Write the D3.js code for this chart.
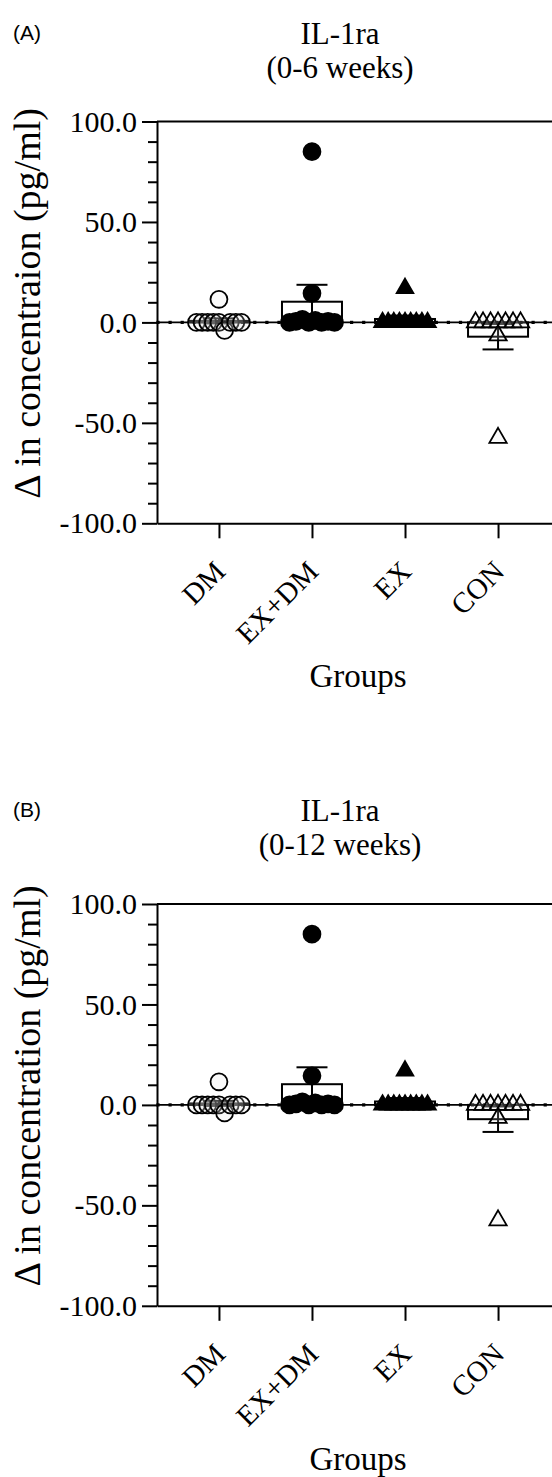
<!DOCTYPE html>
<html>
<head>
<meta charset="utf-8">
<script src="https://cdn.jsdelivr.net/npm/d3@7"></script>
<style>
  body { margin: 0; background: #fff; }
  svg text { font-family: "Liberation Serif", "Times New Roman", serif; fill: #000; }
  svg text.panel-tag { font-family: "Liberation Sans", Arial, sans-serif; }
</style>
</head>
<body>
<div id="graphicContainer"></div>
<script>
// categories and axis ticks
var groups = ["DM", "EX+DM", "EX", "CON"]
var yTicks = [100, 50, 0, -50, -100]
var yMinor = [90, 80, 70, 60, 40, 30, 20, 10, -10, -20, -30, -40, -60, -70, -80, -90]

// change in IL-1ra per animal, 0-6 weeks (pg/ml)
var dm6    = [0, 0, 0, 0, 0, -4, 0, 0, 0, 11.5]
var exdm6  = [0, 0.5, 1.5, 0, 1, 0, 0.5, 0, 14.5, 85]
var ex6    = [0, 0, 0, 0, 0, 0, 0, 0, 0, 17]
var con6   = [0, 0, 0, 0, 0, 0, 0, -6.5, -57.5]

// change in IL-1ra per animal, 0-12 weeks (pg/ml)
var dm12   = [0, 0, 0, 0, 0, -4, 0, 0, 0, 11.5]
var exdm12 = [0, 0.5, 1.5, 0, 1, 0, 0.5, 0, 14.5, 85]
var ex12   = [0, 0, 0, 0, 0, 0, 0, 0, 0, 17]
var con12  = [0, 0, 0, 0, 0, 0, 0, -6.5, -57.5]

var panels = [
    { tag: "(A)", title: ["IL-1ra", "(0-6 weeks)"], ylab: "\u0394 in concentraion (pg/ml)",
      series: [dm6, exdm6, ex6, con6], top: 0, titleTop: 0 },
    { tag: "(B)", title: ["IL-1ra", "(0-12 weeks)"], ylab: "\u0394 in concentration (pg/ml)",
      series: [dm12, exdm12, ex12, con12], top: 782.5, titleTop: 777 }
]

// marker style per group
var markers = [
    { shape: d3.symbolCircle, size: 225, fill: "#e2e2e2", fillOpacity: 0.18 },
    { shape: d3.symbolCircle, size: 225, fill: "#000", fillOpacity: 1 },
    { shape: d3.symbolTriangle, size: 120, fill: "#000", fillOpacity: 1 },
    { shape: d3.symbolTriangle, size: 130, fill: "#e2e2e2", fillOpacity: 0.18 }
]

var width = 552, height = 1477

var svg = d3.select("#graphicContainer").append("svg")
    .attr("width", width)
    .attr("height", height)

var x = d3.scalePoint()
    .domain(groups)
    .range([157, 560])
    .padding(0.666)

// spread points that sit on top of each other, the way the scatter does
function spread(values) {
    var rows = []
    values.forEach((v, i) => {
        var row = rows.find(r => Math.abs(r.anchor - v) < 5)
        if (!row) { row = { anchor: v, items: [] }; rows.push(row) }
        row.items.push(i)
    })
    var offsets = new Array(values.length).fill(0)
    rows.forEach(r => {
        var n = r.items.length
        if (n < 2) return
        var step = Math.min(7.5, 45 / (n - 1))
        r.items.forEach((idx, j) => { offsets[idx] = (j - (n - 1) / 2) * step })
    })
    return offsets
}

panels.forEach(p => {

    var y = d3.scaleLinear()
        .domain([-100, 100])
        .range([523.3 + p.top, 121.5 + p.top])

    var g = svg.append("g")

    // panel tag + title
    g.append("text")
        .attr("class", "panel-tag")
        .attr("x", 13)
        .attr("y", 40 + p.titleTop)
        .style("font-size", "21px")
        .text(p.tag)

    g.selectAll(".title")
        .data(p.title)
        .enter()
        .append("text")
        .attr("x", 340)
        .attr("y", (d, i) => 44 + p.titleTop + i * 34)
        .attr("text-anchor", "middle")
        .style("font-size", "31px")
        .text(d => d)

    // bars: mean, error: SEM
    var stats = p.series.map((vals, i) => {
        var m = d3.mean(vals)
        var sem = d3.deviation(vals) / Math.sqrt(vals.length)
        return { group: groups[i], mean: m, sem: sem }
    })

    var barW = 60
    g.selectAll(".bar")
        .data(stats)
        .enter()
        .append("rect")
        .attr("x", d => x(d.group) - barW / 2)
        .attr("y", d => y(Math.max(0, d.mean)))
        .attr("width", barW)
        .attr("height", d => Math.abs(y(d.mean) - y(0)))
        .attr("fill", "none")
        .attr("stroke", "#000")
        .attr("stroke-width", 2)

    // baseline at zero with dots
    g.append("line")
        .attr("x1", 157).attr("x2", 560)
        .attr("y1", y(0)).attr("y2", y(0))
        .attr("stroke", "#000")
        .attr("stroke-width", 1.6)

    g.selectAll(".dot")
        .data(d3.range(158, 560, 12.1))
        .enter()
        .append("rect")
        .attr("x", d => d - 1.6)
        .attr("y", y(0) - 1.6)
        .attr("width", 3.2)
        .attr("height", 3.2)
        .attr("fill", "#000")

    // error bars
    var capW = 31
    var err = g.selectAll(".err")
        .data(stats)
        .enter()
        .append("g")
        .attr("stroke", "#000")
        .attr("stroke-width", 2)

    err.append("line")
        .attr("x1", d => x(d.group)).attr("x2", d => x(d.group))
        .attr("y1", d => y(d.mean - d.sem))
        .attr("y2", d => y(d.mean + d.sem))

    err.append("line")
        .attr("x1", d => x(d.group) - capW / 2).attr("x2", d => x(d.group) + capW / 2)
        .attr("y1", d => y(d.mean + d.sem)).attr("y2", d => y(d.mean + d.sem))

    err.append("line")
        .attr("x1", d => x(d.group) - capW / 2).attr("x2", d => x(d.group) + capW / 2)
        .attr("y1", d => y(d.mean - d.sem)).attr("y2", d => y(d.mean - d.sem))

    // individual points
    p.series.forEach((vals, i) => {
        var offs = spread(vals)
        var mk = markers[i]
        g.append("g").selectAll("path")
            .data(vals)
            .enter()
            .append("path")
            .attr("transform", (d, j) => "translate(" + (x(groups[i]) + offs[j]) + "," + y(d) + ")")
            .attr("d", d3.symbol().type(mk.shape).size(mk.size))
            .attr("fill", mk.fill)
            .attr("fill-opacity", mk.fillOpacity)
            .attr("stroke", "#000")
            .attr("stroke-width", 1.8)
    })

    // axes
    var yAxis = g.append("g")
        .attr("transform", "translate(157,0)")
        .call(d3.axisLeft(y).tickValues(yTicks).tickSize(15).tickSizeOuter(0).tickPadding(5)
            .tickFormat(d => d.toFixed(1)))
    yAxis.attr("font-family", null)
    yAxis.selectAll("text").style("font-size", "30px")

    g.append("g")
        .attr("transform", "translate(157,0)")
        .call(d3.axisLeft(y).tickValues(yMinor).tickSize(9).tickSizeOuter(0).tickFormat(""))
        .select(".domain").remove()

    g.append("g")
        .attr("transform", "translate(0," + y(-100) + ")")
        .call(d3.axisBottom(x).tickSize(15).tickSizeOuter(0).tickFormat(""))

    g.selectAll(".xlab")
        .data(groups)
        .enter()
        .append("text")
        .attr("text-anchor", "end")
        .attr("transform", d => "translate(" + (x(d) + 8) + "," + (y(-100) + 50) + ") rotate(-45)")
        .style("font-size", "29px")
        .text(d => d)

    // top frame line
    g.append("line")
        .attr("x1", 157).attr("x2", 560)
        .attr("y1", y(100)).attr("y2", y(100))
        .attr("stroke", "#000")
        .attr("stroke-width", 2)

    g.selectAll(".domain, .tick line").attr("stroke-width", 2)

    g.append("text")
        .attr("x", 358)
        .attr("y", y(-100) + 164)
        .attr("text-anchor", "middle")
        .style("font-size", "33px")
        .text("Groups")

    g.append("text")
        .attr("transform", "translate(40," + (y(0) - 19) + ") rotate(-90)")
        .attr("text-anchor", "middle")
        .style("font-size", "38px")
        .text(p.ylab)
})
</script>
</body>
</html>
